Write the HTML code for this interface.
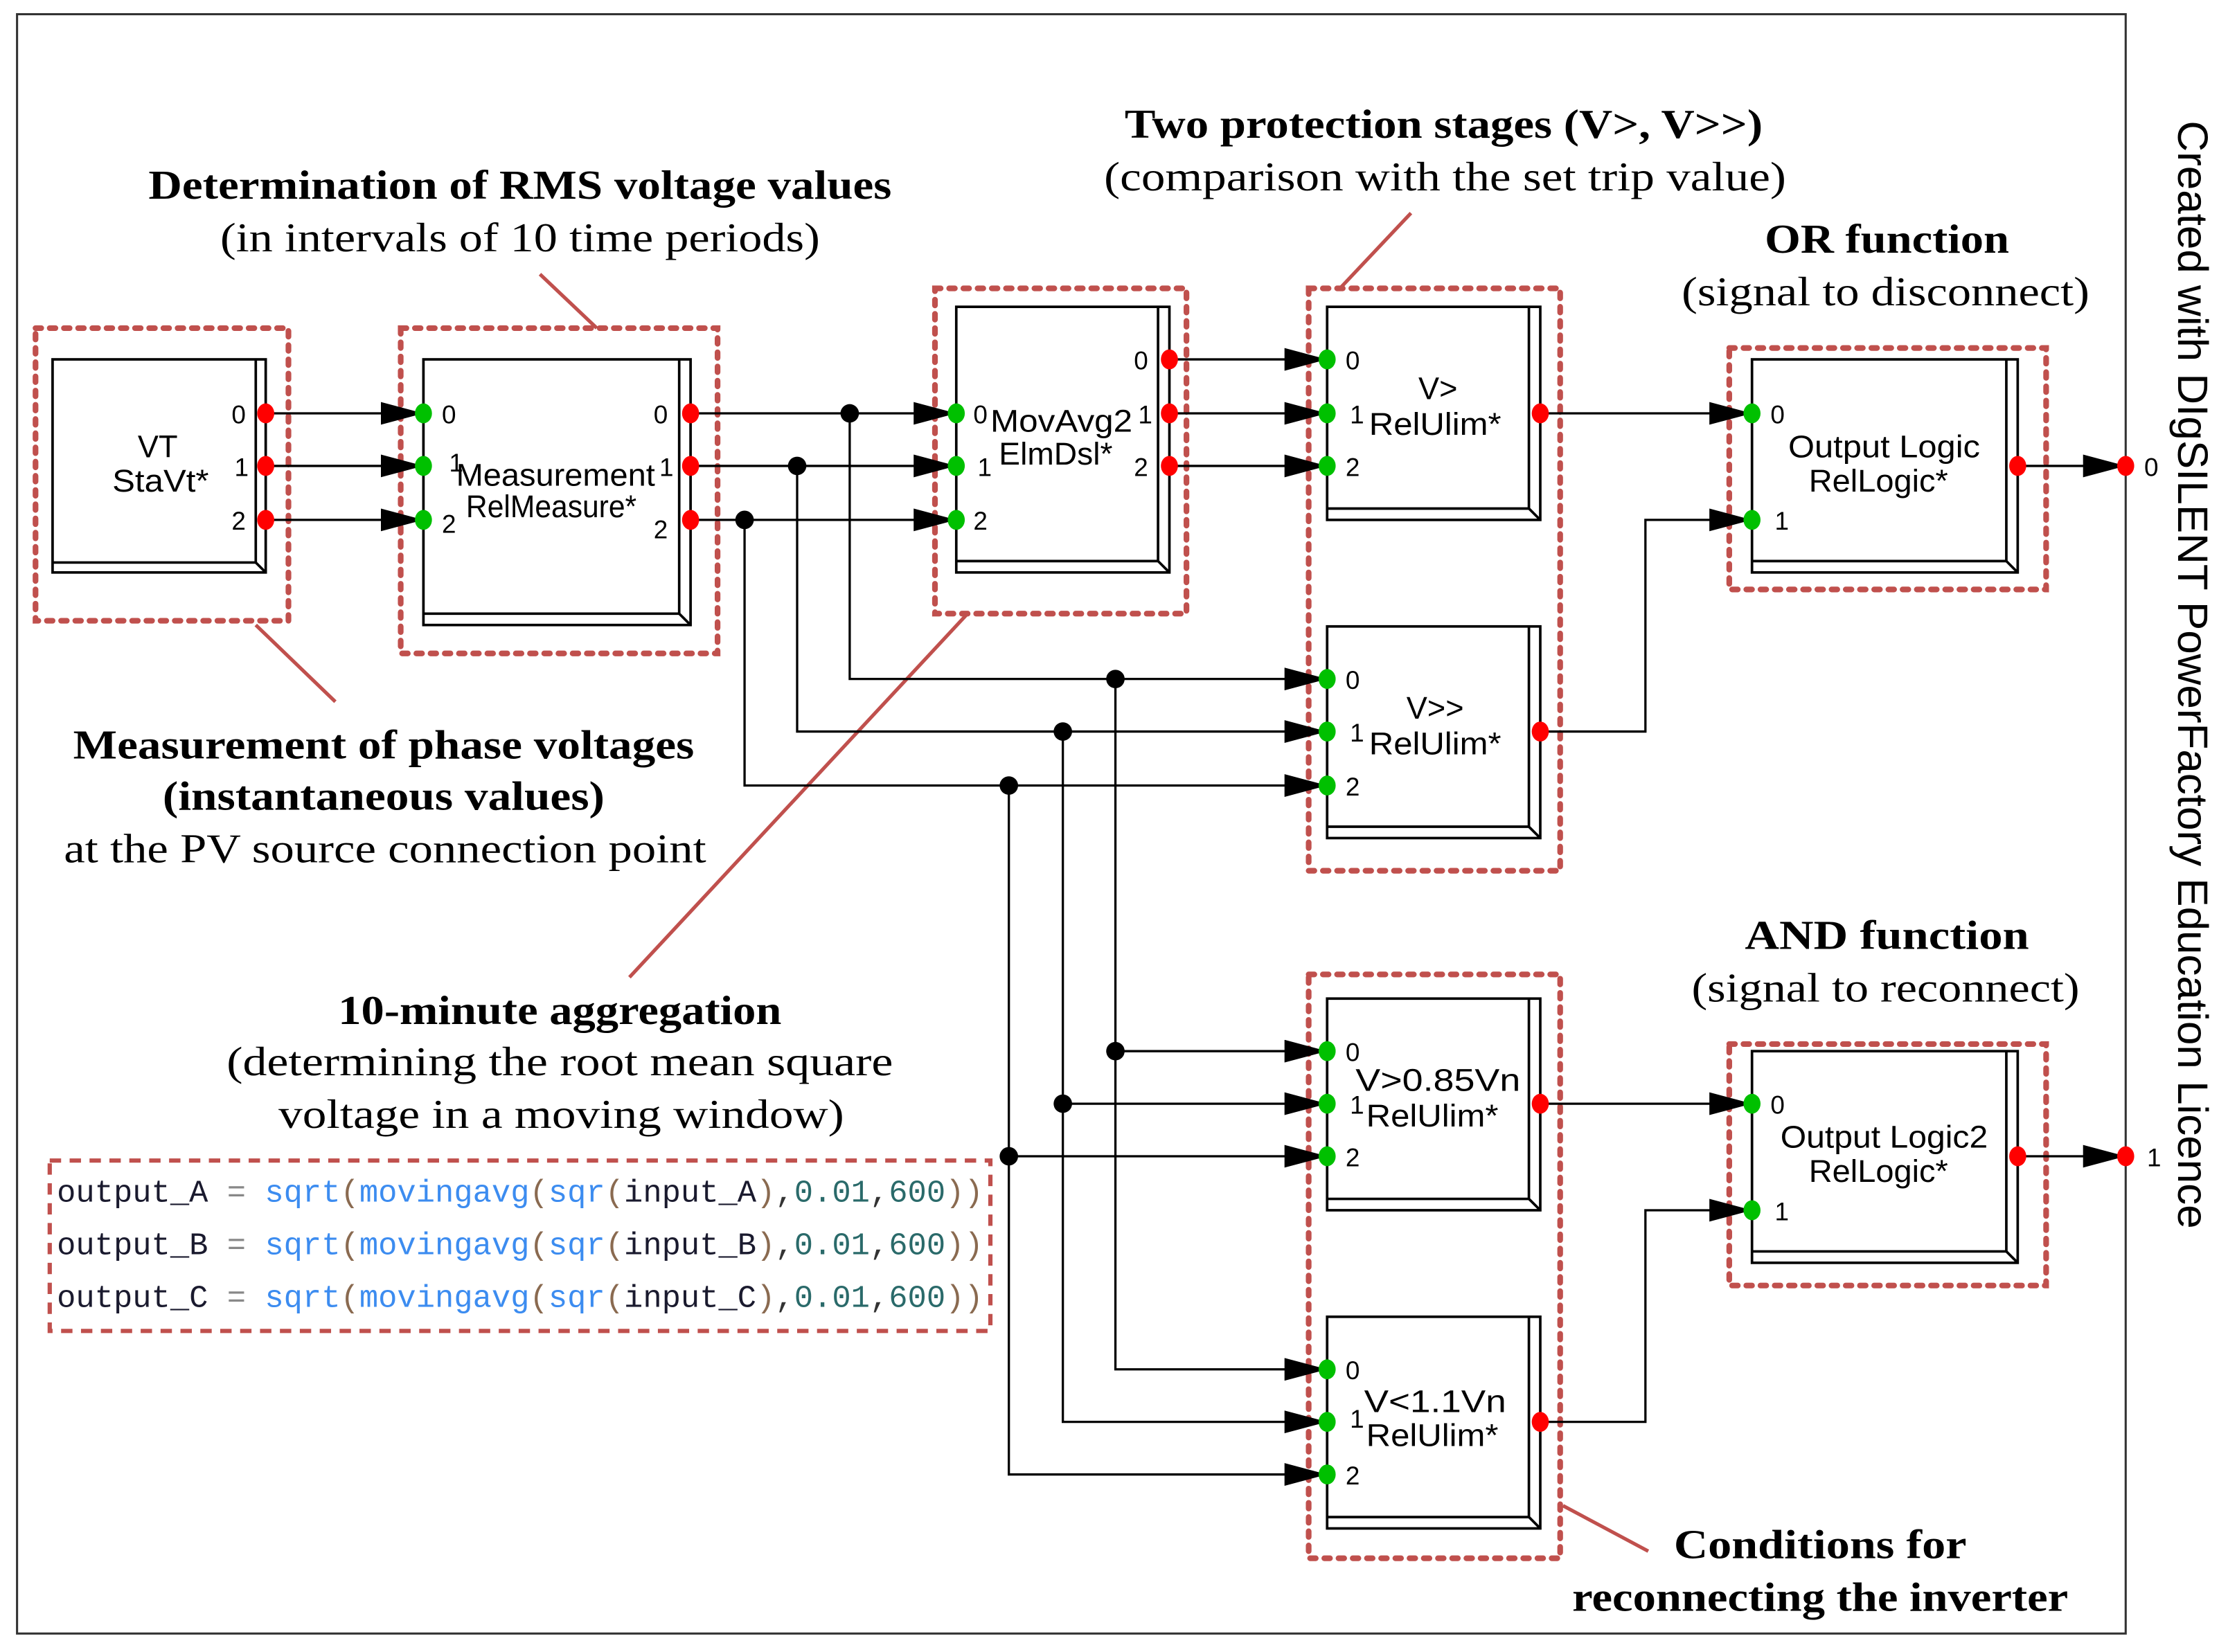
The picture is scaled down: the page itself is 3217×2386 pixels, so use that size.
<!DOCTYPE html>
<html><head><meta charset="utf-8"><style>
html,body{margin:0;padding:0;background:#fff;}
svg{display:block;}
.ser{font-family:"Liberation Serif",serif;font-size:29px;fill:#000;text-anchor:middle;}
.b{font-weight:bold;}
.sans{font-family:"Liberation Sans",sans-serif;fill:#000;}
.pn{font-family:"Liberation Sans",sans-serif;font-size:18px;fill:#000;}
.lbl{font-family:"Liberation Sans",sans-serif;font-size:22px;fill:#000;text-anchor:middle;}
.code{font-family:"Liberation Mono",monospace;font-size:22px;}
</style></head><body>
<svg width="3217" height="2386" viewBox="0 0 1568 1163" preserveAspectRatio="none" xmlns="http://www.w3.org/2000/svg">
<defs>
<marker id="ar" viewBox="0 0 30 16" refX="30" refY="8" markerWidth="30" markerHeight="16" markerUnits="userSpaceOnUse" orient="auto"><path d="M0,0 L30,8 L0,16 Z" fill="#000"/></marker>
</defs>
<rect x="12" y="10" width="1484" height="1140" fill="none" stroke="#333" stroke-width="1.5"/>

<g fill="none" stroke="#c0504d" stroke-width="4" stroke-dasharray="4,6" stroke-linecap="round">
<rect x="25" y="231" width="178" height="206"/>
<rect x="282" y="231" width="223" height="229"/>
<rect x="658" y="203" width="177" height="229"/>
<rect x="921" y="203" width="177" height="410"/>
<rect x="1217" y="245" width="223" height="170"/>
<rect x="921" y="686" width="177" height="411"/>
<rect x="1217" y="735" width="223" height="170"/>
</g>
<rect x="35" y="817" width="662" height="120" fill="none" stroke="#c0504d" stroke-width="3" stroke-dasharray="8,6"/>

<g stroke="#c0504d" stroke-width="2.5">
<line x1="380" y1="193" x2="420" y2="231"/>
<line x1="180" y1="440" x2="236" y2="494"/>
<line x1="993" y1="150" x2="943" y2="203"/>
<line x1="680" y1="433" x2="443" y2="688"/>
<line x1="1100" y1="1060" x2="1160" y2="1092"/>
</g>

<g fill="#fff" stroke="#000" stroke-width="1.8">
<rect x="37" y="253" width="150" height="150"/><polyline points="180,253 180,396 37,396" fill="none"/><line x1="180" y1="396" x2="187" y2="403"/>
<rect x="298" y="253" width="188" height="187"/><polyline points="478,253 478,432 298,432" fill="none"/><line x1="478" y1="432" x2="486" y2="440"/>
<rect x="673" y="216" width="150" height="187"/><polyline points="815,216 815,395 673,395" fill="none"/><line x1="815" y1="395" x2="823" y2="403"/>
<rect x="934" y="216" width="150" height="150"/><polyline points="1076,216 1076,358 934,358" fill="none"/><line x1="1076" y1="358" x2="1084" y2="366"/>
<rect x="934" y="441" width="150" height="149"/><polyline points="1076,441 1076,582 934,582" fill="none"/><line x1="1076" y1="582" x2="1084" y2="590"/>
<rect x="934" y="703" width="150" height="149"/><polyline points="1076,703 1076,844 934,844" fill="none"/><line x1="1076" y1="844" x2="1084" y2="852"/>
<rect x="934" y="927" width="150" height="149"/><polyline points="1076,927 1076,1068 934,1068" fill="none"/><line x1="1076" y1="1068" x2="1084" y2="1076"/>
<rect x="1233" y="253" width="187" height="150"/><polyline points="1412,253 1412,395 1233,395" fill="none"/><line x1="1412" y1="395" x2="1420" y2="403"/>
<rect x="1233" y="740" width="187" height="149"/><polyline points="1412,740 1412,881 1233,881" fill="none"/><line x1="1412" y1="881" x2="1420" y2="889"/>
</g>

<g fill="none" stroke="#000" stroke-width="1.6">
<line x1="187" y1="291" x2="298" y2="291" marker-end="url(#ar)"/>
<line x1="187" y1="328" x2="298" y2="328" marker-end="url(#ar)"/>
<line x1="187" y1="366" x2="298" y2="366" marker-end="url(#ar)"/>
<line x1="486" y1="291" x2="673" y2="291" marker-end="url(#ar)"/>
<line x1="486" y1="328" x2="673" y2="328" marker-end="url(#ar)"/>
<line x1="486" y1="366" x2="673" y2="366" marker-end="url(#ar)"/>
<polyline points="598,291 598,478 934,478" marker-end="url(#ar)"/>
<polyline points="561,328 561,515 934,515" marker-end="url(#ar)"/>
<polyline points="524,366 524,553 934,553" marker-end="url(#ar)"/>
<polyline points="785,478 785,740 934,740" marker-end="url(#ar)"/>
<polyline points="748,515 748,777 934,777" marker-end="url(#ar)"/>
<polyline points="710,553 710,814 934,814" marker-end="url(#ar)"/>
<polyline points="785,740 785,964 934,964" marker-end="url(#ar)"/>
<polyline points="748,777 748,1001 934,1001" marker-end="url(#ar)"/>
<polyline points="710,814 710,1038 934,1038" marker-end="url(#ar)"/>
<line x1="823" y1="253" x2="934" y2="253" marker-end="url(#ar)"/>
<line x1="823" y1="291" x2="934" y2="291" marker-end="url(#ar)"/>
<line x1="823" y1="328" x2="934" y2="328" marker-end="url(#ar)"/>
<line x1="1084" y1="291" x2="1233" y2="291" marker-end="url(#ar)"/>
<polyline points="1084,515 1158,515 1158,366 1233,366" marker-end="url(#ar)"/>
<line x1="1084" y1="777" x2="1233" y2="777" marker-end="url(#ar)"/>
<polyline points="1084,1001 1158,1001 1158,852 1233,852" marker-end="url(#ar)"/>
<line x1="1420" y1="328" x2="1496" y2="328" marker-end="url(#ar)"/>
<line x1="1420" y1="814" x2="1496" y2="814" marker-end="url(#ar)"/>
</g>
<g fill="#000">
<circle cx="598" cy="291" r="6.5"/><circle cx="561" cy="328" r="6.5"/><circle cx="524" cy="366" r="6.5"/>
<circle cx="785" cy="478" r="6.5"/><circle cx="748" cy="515" r="6.5"/><circle cx="710" cy="553" r="6.5"/>
<circle cx="785" cy="740" r="6.5"/><circle cx="748" cy="777" r="6.5"/><circle cx="710" cy="814" r="6.5"/>
</g>
<g fill="#ff0000">
<ellipse cx="187" cy="291" rx="6" ry="7"/><ellipse cx="187" cy="328" rx="6" ry="7"/><ellipse cx="187" cy="366" rx="6" ry="7"/>
<ellipse cx="486" cy="291" rx="6" ry="7"/><ellipse cx="486" cy="328" rx="6" ry="7"/><ellipse cx="486" cy="366" rx="6" ry="7"/>
<ellipse cx="823" cy="253" rx="6" ry="7"/><ellipse cx="823" cy="291" rx="6" ry="7"/><ellipse cx="823" cy="328" rx="6" ry="7"/>
<ellipse cx="1084" cy="291" rx="6" ry="7"/><ellipse cx="1084" cy="515" rx="6" ry="7"/><ellipse cx="1084" cy="777" rx="6" ry="7"/><ellipse cx="1084" cy="1001" rx="6" ry="7"/>
<ellipse cx="1420" cy="328" rx="6" ry="7"/><ellipse cx="1420" cy="814" rx="6" ry="7"/>
<ellipse cx="1496" cy="328" rx="6" ry="7"/><ellipse cx="1496" cy="814" rx="6" ry="7"/>
</g>
<g fill="#00c000">
<ellipse cx="298" cy="291" rx="6" ry="7"/><ellipse cx="298" cy="328" rx="6" ry="7"/><ellipse cx="298" cy="366" rx="6" ry="7"/>
<ellipse cx="673" cy="291" rx="6" ry="7"/><ellipse cx="673" cy="328" rx="6" ry="7"/><ellipse cx="673" cy="366" rx="6" ry="7"/>
<ellipse cx="934" cy="253" rx="6" ry="7"/><ellipse cx="934" cy="291" rx="6" ry="7"/><ellipse cx="934" cy="328" rx="6" ry="7"/>
<ellipse cx="934" cy="478" rx="6" ry="7"/><ellipse cx="934" cy="515" rx="6" ry="7"/><ellipse cx="934" cy="553" rx="6" ry="7"/>
<ellipse cx="934" cy="740" rx="6" ry="7"/><ellipse cx="934" cy="777" rx="6" ry="7"/><ellipse cx="934" cy="814" rx="6" ry="7"/>
<ellipse cx="934" cy="964" rx="6" ry="7"/><ellipse cx="934" cy="1001" rx="6" ry="7"/><ellipse cx="934" cy="1038" rx="6" ry="7"/>
<ellipse cx="1233" cy="291" rx="6" ry="7"/><ellipse cx="1233" cy="366" rx="6" ry="7"/>
<ellipse cx="1233" cy="777" rx="6" ry="7"/><ellipse cx="1233" cy="852" rx="6" ry="7"/>
</g>
<g class="pn">
<text x="163" y="298">0</text><text x="165" y="335">1</text><text x="163" y="373">2</text>
<text x="311" y="298">0</text><text x="316" y="332">1</text><text x="311" y="375">2</text>
<text x="460" y="298">0</text><text x="464" y="335">1</text><text x="460" y="379">2</text>
<text x="685" y="298">0</text><text x="688" y="335">1</text><text x="685" y="373">2</text>
<text x="798" y="260">0</text><text x="801" y="298">1</text><text x="798" y="335">2</text>
<text x="947" y="260">0</text><text x="950" y="298">1</text><text x="947" y="335">2</text>
<text x="947" y="485">0</text><text x="950" y="522">1</text><text x="947" y="560">2</text>
<text x="947" y="747">0</text><text x="950" y="784">1</text><text x="947" y="821">2</text>
<text x="947" y="971">0</text><text x="950" y="1005">1</text><text x="947" y="1045">2</text>
<text x="1246" y="298">0</text><text x="1249" y="373">1</text>
<text x="1246" y="784">0</text><text x="1249" y="859">1</text>
<text x="1509" y="335">0</text><text x="1511" y="821">1</text>
</g>
<g class="lbl">
<text x="111" y="322">VT</text><text x="113" y="346" textLength="68" lengthAdjust="spacingAndGlyphs">StaVt*</text>
<text x="391" y="342" textLength="140" lengthAdjust="spacingAndGlyphs">Measurement</text><text x="388" y="364" textLength="120" lengthAdjust="spacingAndGlyphs">RelMeasure*</text>
<text x="747" y="304" textLength="100" lengthAdjust="spacingAndGlyphs">MovAvg2</text><text x="743" y="327" textLength="80" lengthAdjust="spacingAndGlyphs">ElmDsl*</text>
<text x="1012" y="281">V&gt;</text><text x="1010" y="306" textLength="93" lengthAdjust="spacingAndGlyphs">RelUlim*</text>
<text x="1010" y="506">V&gt;&gt;</text><text x="1010" y="531" textLength="93" lengthAdjust="spacingAndGlyphs">RelUlim*</text>
<text x="1012" y="768" textLength="116" lengthAdjust="spacingAndGlyphs">V&gt;0.85Vn</text><text x="1008" y="793" textLength="93" lengthAdjust="spacingAndGlyphs">RelUlim*</text>
<text x="1010" y="994" textLength="100" lengthAdjust="spacingAndGlyphs">V&lt;1.1Vn</text><text x="1008" y="1018" textLength="93" lengthAdjust="spacingAndGlyphs">RelUlim*</text>
<text x="1326" y="322" textLength="135" lengthAdjust="spacingAndGlyphs">Output Logic</text><text x="1322" y="346" textLength="98" lengthAdjust="spacingAndGlyphs">RelLogic*</text>
<text x="1326" y="808" textLength="146" lengthAdjust="spacingAndGlyphs">Output Logic2</text><text x="1322" y="832" textLength="98" lengthAdjust="spacingAndGlyphs">RelLogic*</text>
</g>
<g class="ser">
<text x="366" y="140" class="ser b" textLength="523" lengthAdjust="spacingAndGlyphs">Determination of RMS voltage values</text>
<text x="366" y="177" textLength="422" lengthAdjust="spacingAndGlyphs">(in intervals of 10 time periods)</text>
<text x="1016" y="97" class="ser b" textLength="449" lengthAdjust="spacingAndGlyphs">Two protection stages (V&gt;, V&gt;&gt;)</text>
<text x="1017" y="134" textLength="480" lengthAdjust="spacingAndGlyphs">(comparison with the set trip value)</text>
<text x="1328" y="178" class="ser b" textLength="172" lengthAdjust="spacingAndGlyphs">OR function</text>
<text x="1327" y="215" textLength="287" lengthAdjust="spacingAndGlyphs">(signal to disconnect)</text>
<text x="270" y="534" class="ser b" textLength="437" lengthAdjust="spacingAndGlyphs">Measurement of phase voltages</text>
<text x="270" y="570" class="ser b" textLength="311" lengthAdjust="spacingAndGlyphs">(instantaneous values)</text>
<text x="271" y="607" textLength="452" lengthAdjust="spacingAndGlyphs">at the PV source connection point</text>
<text x="394" y="721" class="ser b" textLength="312" lengthAdjust="spacingAndGlyphs">10-minute aggregation</text>
<text x="394" y="757" textLength="469" lengthAdjust="spacingAndGlyphs">(determining the root mean square</text>
<text x="395" y="794" textLength="398" lengthAdjust="spacingAndGlyphs">voltage in a moving window)</text>
<text x="1328" y="668" class="ser b" textLength="200" lengthAdjust="spacingAndGlyphs">AND function</text>
<text x="1327" y="705" textLength="273" lengthAdjust="spacingAndGlyphs">(signal to reconnect)</text>
<text x="1281" y="1097" class="ser b" textLength="206" lengthAdjust="spacingAndGlyphs">Conditions for</text>
<text x="1281" y="1134" class="ser b" textLength="349" lengthAdjust="spacingAndGlyphs">reconnecting the inverter</text>
</g>
<text class="sans" font-size="30" transform="translate(1533,475) rotate(90)" text-anchor="middle" textLength="780" lengthAdjust="spacingAndGlyphs">Created with DIgSILENT PowerFactory Education Licence</text>
<g class="code">
<text x="40" y="846" textLength="652" lengthAdjust="spacingAndGlyphs"><tspan fill="#1a1a2e">output_A</tspan><tspan fill="#888"> = </tspan><tspan fill="#3c8cf0">sqrt</tspan><tspan fill="#8a6a50">(</tspan><tspan fill="#3c8cf0">movingavg</tspan><tspan fill="#8a6a50">(</tspan><tspan fill="#3c8cf0">sqr</tspan><tspan fill="#8a6a50">(</tspan><tspan fill="#1a1a2e">input_A</tspan><tspan fill="#8a6a50">)</tspan><tspan fill="#333">,</tspan><tspan fill="#2a6a6a">0.01</tspan><tspan fill="#333">,</tspan><tspan fill="#2a6a6a">600</tspan><tspan fill="#8a6a50">))</tspan></text>
<text x="40" y="883" textLength="652" lengthAdjust="spacingAndGlyphs"><tspan fill="#1a1a2e">output_B</tspan><tspan fill="#888"> = </tspan><tspan fill="#3c8cf0">sqrt</tspan><tspan fill="#8a6a50">(</tspan><tspan fill="#3c8cf0">movingavg</tspan><tspan fill="#8a6a50">(</tspan><tspan fill="#3c8cf0">sqr</tspan><tspan fill="#8a6a50">(</tspan><tspan fill="#1a1a2e">input_B</tspan><tspan fill="#8a6a50">)</tspan><tspan fill="#333">,</tspan><tspan fill="#2a6a6a">0.01</tspan><tspan fill="#333">,</tspan><tspan fill="#2a6a6a">600</tspan><tspan fill="#8a6a50">))</tspan></text>
<text x="40" y="920" textLength="652" lengthAdjust="spacingAndGlyphs"><tspan fill="#1a1a2e">output_C</tspan><tspan fill="#888"> = </tspan><tspan fill="#3c8cf0">sqrt</tspan><tspan fill="#8a6a50">(</tspan><tspan fill="#3c8cf0">movingavg</tspan><tspan fill="#8a6a50">(</tspan><tspan fill="#3c8cf0">sqr</tspan><tspan fill="#8a6a50">(</tspan><tspan fill="#1a1a2e">input_C</tspan><tspan fill="#8a6a50">)</tspan><tspan fill="#333">,</tspan><tspan fill="#2a6a6a">0.01</tspan><tspan fill="#333">,</tspan><tspan fill="#2a6a6a">600</tspan><tspan fill="#8a6a50">))</tspan></text>
</g>
</svg>
</body></html>
